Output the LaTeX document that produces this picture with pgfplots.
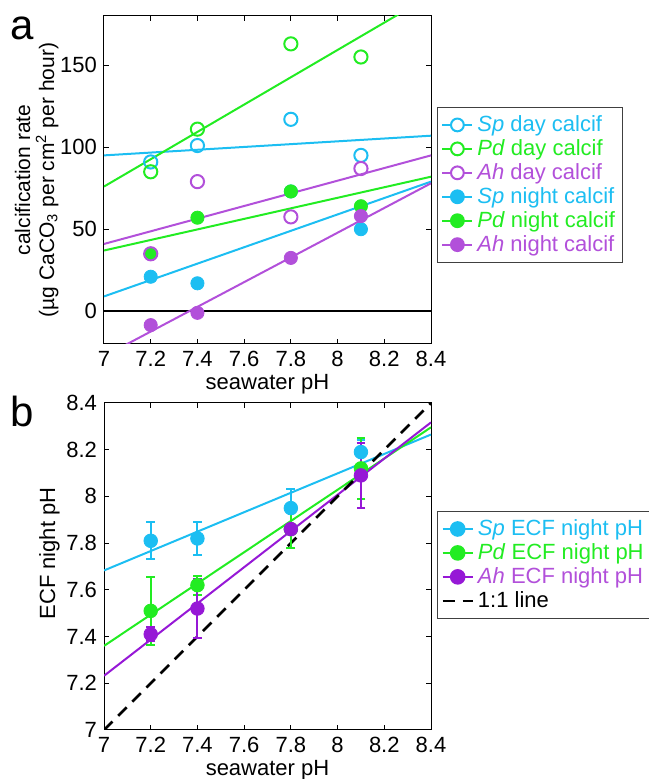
\documentclass[border=0pt]{standalone}
\usepackage{fontspec}
\setmainfont{Liberation Sans}
\usepackage{pgfplots}
\pgfplotsset{compat=1.18}

\definecolor{spc}{RGB}{28,190,242}
\definecolor{pdc}{RGB}{34,236,34}
\definecolor{ahc}{RGB}{178,80,218}
\definecolor{ahb}{RGB}{150,24,214}

\pgfplotsset{
  panel/.style={
    scale only axis, width=163.5pt,
    xmin=7, xmax=8.4,
    xtick={7,7.2,7.4,7.6,7.8,8,8.2,8.4},
    tick align=inside, major tick length=2.5pt,
    tick style={black, line width=0.5pt},
    axis line style={black, line width=0.5pt},
    tick label style={font=\fontsize{11}{13}\selectfont},
    label style={font=\fontsize{11}{13}\selectfont},
    /pgf/number format/assume math mode=true,
    xlabel={seawater pH},
    xlabel style={yshift=3pt},
    legend cell align=left,
    legend image code/.code={
      \draw[mark repeat=2,mark phase=2,##1] plot coordinates {(0pt,0pt) (7.5pt,0pt) (15pt,0pt)};
    },
    legend style={draw=black!75, line width=0.5pt, fill=white,
      font=\fontsize{11}{13}\selectfont, inner xsep=2pt, inner ysep=2pt,
      row sep=-1.5pt},
  },
  fitl/.style={line width=1pt, forget plot},
  ebar/.style={error bars/.cd, y dir=both, y explicit,
    error bar style={line width=1pt},
    error mark options={rotate=90, line width=1pt, mark size=2.2pt}},
  oneone/.style={black, line width=1.3pt, dash pattern=on 6pt off 4pt},
}

\begin{document}
\begin{tikzpicture}

% panel a
\begin{axis}[panel,
  at={(52pt,217.5pt)}, anchor=south west, height=164pt,
  ymin=-20, ymax=180, ytick={0,50,100,150},
  ylabel={calcification rate\\(µg CaCO\textsubscript{3} per cm\textsuperscript{2} per hour)},
  ylabel style={align=center, font=\fontsize{10.5}{12}\selectfont, yshift=-6pt},
  legend style={at={(1.018,0.7226)}, anchor=north west},
]
\addlegendimage{spc, line width=1pt, mark=*, mark size=3.2pt, mark options={fill=white}}
\addlegendentry{\textcolor{spc}{\textit{Sp} day calcif}}
\addlegendimage{pdc, line width=1pt, mark=*, mark size=3.2pt, mark options={fill=white}}
\addlegendentry{\textcolor{pdc}{\textit{Pd} day calcif}}
\addlegendimage{ahc, line width=1pt, mark=*, mark size=3.2pt, mark options={fill=white}}
\addlegendentry{\textcolor{ahc}{\textit{Ah} day calcif}}
\addlegendimage{spc, line width=1pt, mark=*, mark size=3.2pt}
\addlegendentry{\textcolor{spc}{\textit{Sp} night calcif}}
\addlegendimage{pdc, line width=1pt, mark=*, mark size=3.2pt}
\addlegendentry{\textcolor{pdc}{\textit{Pd} night calcif}}
\addlegendimage{ahc, line width=1pt, mark=*, mark size=3.2pt}
\addlegendentry{\textcolor{ahc}{\textit{Ah} night calcif}}

\addplot[black, line width=1.2pt, forget plot] coordinates {(7,0) (8.4,0)};
% fitted lines
\addplot[spc, fitl] coordinates {(7,95) (8.4,107)};
\addplot[pdc, fitl] coordinates {(7,76) (8.4,192.6)};
\addplot[ahc, fitl] coordinates {(7,41) (8.4,95)};
\addplot[pdc, fitl] coordinates {(7,37) (8.4,82)};
\addplot[spc, fitl] coordinates {(7,9) (8.4,79)};
\addplot[ahc, fitl] coordinates {(7,-27.5) (8.4,78)};
% night (filled)
\addplot[spc, only marks, mark=*, mark size=3.3pt, forget plot] coordinates {(7.2,21) (7.4,17) (7.8,73) (8.1,50)};
\addplot[pdc, only marks, mark=*, mark size=3.3pt, forget plot] coordinates {(7.2,35) (7.4,57) (7.8,73) (8.1,64)};
\addplot[ahc, only marks, mark=*, mark size=3.3pt, forget plot] coordinates {(7.2,-8.5) (7.4,-1) (7.8,32.5) (8.1,58)};
% day (open)
\addplot[spc, only marks, mark=o, mark size=3.3pt, line width=1pt, forget plot] coordinates {(7.2,91) (7.4,101) (7.8,117) (8.1,95)};
\addplot[pdc, only marks, mark=o, mark size=3.3pt, line width=1pt, forget plot] coordinates {(7.2,85) (7.4,111) (7.8,163) (8.1,155)};
\addplot[ahc, only marks, mark=o, mark size=3.3pt, line width=1pt, forget plot] coordinates {(7.2,35) (7.4,79) (7.8,57.5) (8.1,87)};
\end{axis}

% panel b
\begin{axis}[panel,
  at={(52pt,24.5pt)}, anchor=south west, height=163.5pt,
  ymin=7, ymax=8.4, ytick={7,7.2,7.4,7.6,7.8,8,8.2,8.4},
  ylabel={ECF night pH},
  ylabel style={at={(ticklabel cs:0.54)}, yshift=-3.5pt},
  legend style={at={(1.018,0.6697)}, anchor=north west},
]
\addlegendimage{spc, line width=1pt, mark=*, mark size=3.4pt}
\addlegendentry{\textcolor{spc}{\textit{Sp} ECF night pH}}
\addlegendimage{pdc, line width=1pt, mark=*, mark size=3.4pt}
\addlegendentry{\textcolor{pdc}{\textit{Pd} ECF night pH}}
\addlegendimage{ahb, line width=1pt, mark=*, mark size=3.4pt}
\addlegendentry{\textcolor{ahc}{\textit{Ah} ECF night pH}}
\addlegendimage{oneone}
\addlegendentry{1:1 line}

\addplot[spc, fitl] coordinates {(7,7.683) (8.4,8.265)};
\addplot[pdc, fitl] coordinates {(7,7.36) (8.4,8.296)};
\addplot[ahb, fitl] coordinates {(7,7.232) (8.4,8.317)};
\addplot[oneone, forget plot] coordinates {(7,7) (8.4,8.4)};

\addplot[spc, only marks, mark=*, mark size=3.4pt, forget plot, ebar]
  table[y error=e] {
x y e
7.2 7.81 0.08
7.4 7.82 0.07
7.8 7.95 0.08
8.1 8.19 0.05
};
\addplot[pdc, only marks, mark=*, mark size=3.4pt, forget plot, ebar]
  table[y error=e] {
x y e
7.2 7.51 0.145
7.4 7.62 0.04
7.8 7.86 0.08
8.1 8.12 0.13
};
\addplot[ahb, only marks, mark=*, mark size=3.4pt, forget plot, ebar]
  table[y error=e] {
x y e
7.2 7.41 0.03
7.4 7.52 0.125
7.8 7.86 0.02
8.1 8.09 0.14
};
\end{axis}

\node[anchor=base west, font=\fontsize{21}{21}\selectfont, inner sep=0pt] at (5pt,369.5pt) {a};
\node[anchor=base west, font=\fontsize{21}{21}\selectfont, inner sep=0pt] at (5pt,176pt) {b};

\pgfresetboundingbox
\useasboundingbox (0,0) rectangle (324pt,389.5pt);
\end{tikzpicture}
\end{document}
